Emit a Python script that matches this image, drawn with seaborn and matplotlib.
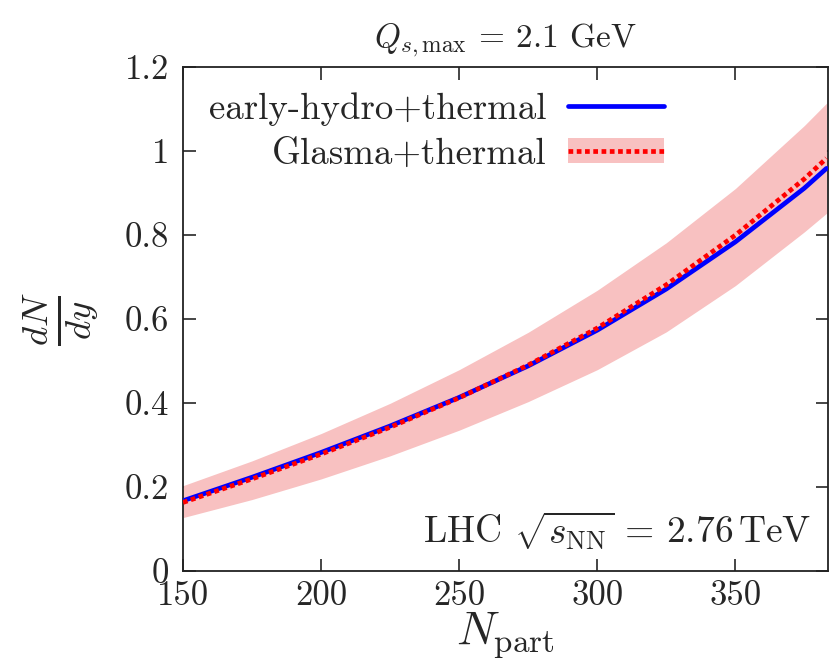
import matplotlib
matplotlib.use("Agg")
import matplotlib.pyplot as plt
import seaborn as sns
from matplotlib.patches import Patch
from matplotlib.lines import Line2D
from matplotlib.legend_handler import HandlerTuple

# values
n_part = [150, 175, 200, 225, 250, 275, 300, 325, 350, 375, 383]
hydro = [0.167, 0.223, 0.282, 0.345, 0.413, 0.488, 0.573, 0.671, 0.783, 0.911, 0.958]
glasma = [0.163, 0.219, 0.278, 0.342, 0.412, 0.490, 0.578, 0.681, 0.799, 0.933, 0.982]
glasma_lo = [0.127, 0.170, 0.219, 0.274, 0.335, 0.403, 0.479, 0.569, 0.679, 0.807, 0.851]
glasma_hi = [0.203, 0.262, 0.327, 0.399, 0.479, 0.568, 0.668, 0.781, 0.910, 1.060, 1.113]
y_ticks = [0, 0.2, 0.4, 0.6, 0.8, 1.0, 1.2]
y_tick_labels = ["0", "0.2", "0.4", "0.6", "0.8", "1", "1.2"]
x_ticks = [150, 200, 250, 300, 350]

sns.set_style("ticks")
plt.rcParams["font.family"] = ["cmr10", "DejaVu Serif"]
plt.rcParams["mathtext.fontset"] = "cm"
plt.rcParams["axes.formatter.use_mathtext"] = True
plt.rcParams["axes.unicode_minus"] = False

fig = plt.figure(figsize=(8.32, 6.67), dpi=100)
ax = fig.add_axes([0.22, 0.144, 0.775, 0.756])

band_color = "#f8c1c1"
ax.fill_between(n_part, glasma_lo, glasma_hi, color=band_color, lw=0, zorder=1)
sns.lineplot(x=n_part, y=hydro, ax=ax, color="#0000ff", lw=3.4, zorder=3)
sns.lineplot(x=n_part, y=glasma, ax=ax, color="#ff0000", lw=3.4,
             linestyle=(0, (1.0, 0.75)), zorder=4)

ax.set_xlim(150, 383.5)
ax.set_ylim(0, 1.2)
ax.set_xticks(x_ticks)
ax.set_xticklabels([str(t) for t in x_ticks])
ax.set_yticks(y_ticks)
ax.set_yticklabels(y_tick_labels)
ax.tick_params(direction="in", length=9, width=1.2, top=True, right=True,
               labelsize=25)
ax.tick_params(axis="x", pad=7)
ax.tick_params(axis="y", pad=10)
for s in ax.spines.values():
    s.set_linewidth(1.3)
    s.set_color("#222222")

ax.set_xlabel(r"$N_{\rm part}$", fontsize=34, labelpad=-2)
ax.set_ylabel(r"$\frac{dN}{dy}$", fontsize=38, labelpad=18)
ax.set_title(r"$Q_{s,\rm max}$ = 2.1 GeV", fontsize=24, pad=14)

ax.text(0.975, 0.035, r"LHC $\sqrt{s_{\rm NN}}$ = 2.76$\,$TeV", transform=ax.transAxes,
        ha="right", va="bottom", fontsize=27)

h_hydro = Line2D([], [], color="#0000ff", lw=3.4)
h_glasma = (Patch(facecolor=band_color, edgecolor="none"),
            Line2D([], [], color="#ff0000", lw=3.4, linestyle=(0, (1.0, 0.75))))
ax.legend([h_hydro, h_glasma], ["early-hydro+thermal", "Glasma+thermal"],
          handler_map={tuple: HandlerTuple(ndivide=1, pad=0)},
          loc="upper left", bbox_to_anchor=(0.0, 1.0), frameon=False,
          markerfirst=False, fontsize=26.5, handlelength=2.6, handletextpad=0.6,
          labelspacing=0.3, borderaxespad=0.3)

fig.savefig("out.png", dpi=100)
